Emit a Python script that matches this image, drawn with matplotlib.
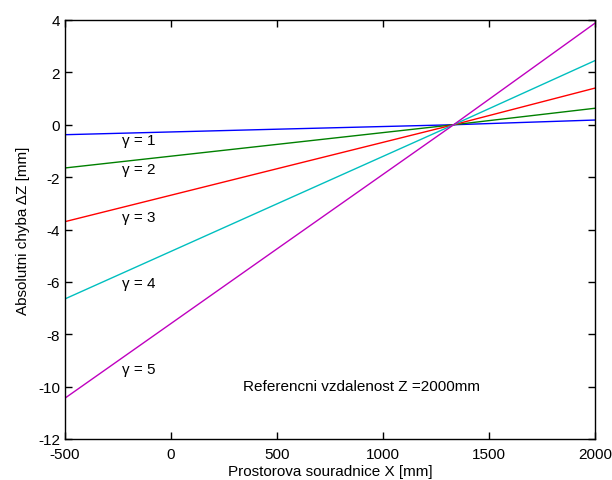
import matplotlib
matplotlib.use("Agg")
import matplotlib.pyplot as plt

plt.rcParams["font.family"] = ["Liberation Sans", "DejaVu Sans"]
plt.rcParams["axes.unicode_minus"] = False

# X positions [mm] and error values dZ [mm] for each gamma
x_pts = [-500, 500, 1333, 2000]
dz_g1 = [-0.38, -0.17, 0.0, 0.18]
dz_g2 = [-1.65, -0.75, 0.0, 0.63]
dz_g3 = [-3.70, -1.68, 0.0, 1.40]
dz_g4 = [-6.65, -3.02, 0.0, 2.45]
dz_g5 = [-10.44, -4.74, 0.0, 3.88]
series = [dz_g1, dz_g2, dz_g3, dz_g4, dz_g5]
colors = ["#0000ff", "#008000", "#ff0000", "#00bfbf", "#bf00bf"]
labels = ["γ = 1", "γ = 2", "γ = 3", "γ = 4", "γ = 5"]
label_y = [-0.58, -1.69, -3.52, -6.04, -9.33]

fig = plt.figure(figsize=(6.12, 4.81), dpi=100)
ax = fig.add_axes([65/612, 1 - 440/481, 530/612, 419/481])

for dz, c in zip(series, colors):
    ax.plot(x_pts, dz, color=c, lw=1.0)

for lab, ly in zip(labels, label_y):
    ax.text(-230, ly, lab, fontsize=11, va="center", ha="left")

ax.text(340, -9.97, "Referencni vzdalenost Z =2000mm", fontsize=11,
        va="center", ha="left")

ax.set_xlim(-500, 2000)
ax.set_ylim(-12, 4)
ax.set_xticks(range(-500, 2001, 500))
ax.set_yticks(range(-12, 5, 2))
ax.tick_params(direction="in", top=True, right=True, labelsize=11,
               length=5, width=1)
ax.tick_params(axis="x", pad=6)
for s in ax.spines.values():
    s.set_linewidth(1.0)

ax.set_xlabel("Prostorova souradnice X [mm]", fontsize=11, labelpad=2)
ax.set_ylabel("Absolutni chyba ΔZ [mm]", fontsize=11, labelpad=6)

fig.savefig("out.png", dpi=100)
